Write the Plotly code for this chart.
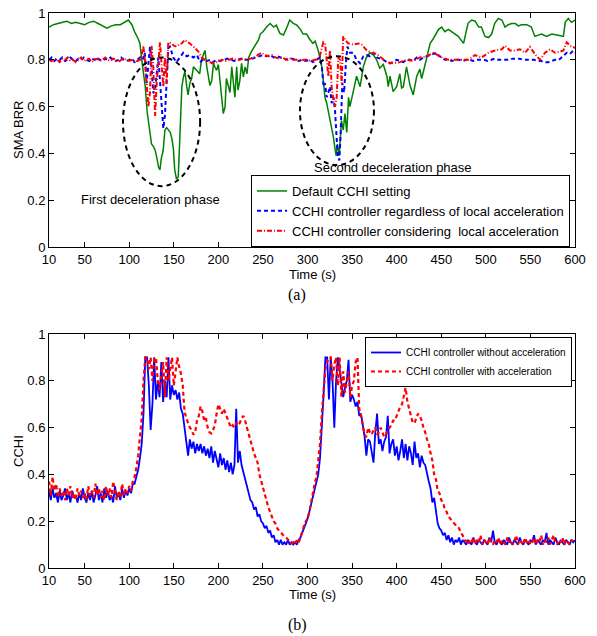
import plotly.graph_objects as go

# ---------------- data: panel (a) SMA BRR ----------------
default_pts = [
    (10,0.94),(15,0.95),(20,0.955),(25,0.96),(30,0.965),(35,0.955),(40,0.96),(45,0.955),(50,0.95),
    (55,0.96),(60,0.965),(65,0.955),(70,0.945),(75,0.935),(80,0.945),(85,0.95),(90,0.95),(95,0.96),
    (99,0.97),(103,0.95),(106,0.92),(110,0.89),(112,0.87),(114,0.80),(116,0.73),(118,0.685),(120,0.58),
    (122,0.52),(124,0.46),(125,0.44),(127,0.43),(129,0.415),(131,0.38),(133,0.34),(134.5,0.33),(136,0.38),
    (138,0.41),(140,0.50),(142,0.51),(144,0.50),(146,0.49),(148,0.46),(149.5,0.42),(151,0.33),(153,0.29),
    (155,0.30),(157,0.49),(159,0.685),(161,0.73),(162.5,0.75),(164.5,0.685),(166,0.65),(168,0.70),(170,0.72),
    (172,0.77),(174,0.76),(176,0.755),(179,0.74),(181,0.80),(185,0.84),(187,0.77),(190.5,0.69),(192.5,0.71),
    (194.5,0.785),(196,0.77),(198,0.755),(200,0.78),(202,0.70),(204,0.64),(205.5,0.57),(207.5,0.60),(209,0.72),
    (211,0.69),(213,0.66),(215,0.77),(217,0.685),(218.5,0.64),(220.5,0.77),(222,0.67),(224,0.71),(226,0.785),
    (228,0.727),(230,0.77),(232,0.74),(234,0.81),(237,0.835),(241,0.86),(245,0.885),(247,0.91),(250,0.92),
    (254,0.94),(258,0.955),(262,0.94),(265,0.948),(269,0.913),(273,0.906),(277,0.94),(280,0.97),(284,0.956),
    (288,0.948),(292,0.93),(295,0.91),(299,0.91),(302,0.89),(306,0.87),(308.5,0.88),(312,0.84),(314,0.81),
    (316,0.77),(318,0.70),(319.5,0.64),(321.5,0.615),(323,0.585),(325,0.543),(327,0.514),(329,0.47),(331,0.415),
    (332,0.39),(333.5,0.44),(335.5,0.39),(338,0.54),(340,0.50),(342,0.57),(344,0.49),(346,0.64),(347.5,0.60),
    (351,0.66),(355,0.73),(359,0.685),(362.5,0.77),(366,0.81),(370,0.83),(374,0.82),(377.5,0.80),(381,0.764),
    (385,0.78),(389,0.73),(390.5,0.685),(392.5,0.73),(396,0.664),(400,0.685),(403.5,0.74),(405.5,0.68),
    (407.5,0.685),(411,0.77),(413,0.73),(415,0.69),(418.5,0.65),(420.5,0.685),(422.5,0.73),(426,0.76),(428,0.72),
    (430,0.75),(433.5,0.81),(437.5,0.87),(441,0.89),(445,0.92),(447,0.93),(450.5,0.94),(454,0.92),(458,0.93),
    (463.5,0.915),(469,0.90),(475,0.87),(480,0.956),(484,0.97),(488,0.965),(492,0.94),(495,0.94),(499,0.90),
    (503,0.895),(506.5,0.91),(510,0.956),(514,0.977),(518,0.97),(521.5,0.94),(525,0.95),(529,0.955),(533,0.955),
    (536.5,0.945),(540,0.95),(546,0.95),(551,0.94),(555,0.90),(559,0.905),(562.5,0.91),(568,0.90),(574,0.91),
    (581,0.905),(587,0.90),(589,0.96),(592.5,0.977),(596,0.96),(600,0.97),
]

regardless_pts = [
    (10,0.80),(13,0.81),(16,0.795),(19,0.805),(22,0.80),(25,0.81),(28,0.795),(31,0.80),(34,0.81),(37,0.80),
    (40,0.795),(43,0.805),(46,0.80),(49,0.81),(52,0.80),(55,0.795),(58,0.805),(61,0.80),(64,0.81),(67,0.80),
    (70,0.795),(73,0.805),(76,0.80),(79,0.81),(82,0.80),(85,0.795),(88,0.80),(91,0.81),(94,0.80),(97,0.795),
    (100,0.80),(103,0.805),(106,0.79),(109,0.80),(112,0.81),(115,0.80),(117.5,0.83),(119.5,0.70),(121.5,0.78),
    (123.3,0.856),(125,0.77),(127,0.657),(129,0.67),(131,0.77),(132.6,0.81),(134.5,0.71),(136.4,0.60),
    (138.2,0.507),(140,0.56),(142,0.70),(143.8,0.85),(145.7,0.856),(149.4,0.81),(153,0.79),(157,0.81),
    (160.6,0.83),(164.4,0.815),(168,0.82),(172,0.81),(176,0.82),(179.4,0.79),(183,0.80),(187,0.795),(191,0.80),
    (194,0.79),(198,0.80),(202,0.795),(206,0.80),(210,0.805),(214,0.80),(218,0.795),(222,0.80),(226,0.805),
    (230,0.80),(234,0.80),(238,0.805),(242,0.81),(246,0.815),(250,0.82),(254,0.815),(258,0.82),(262,0.81),
    (266,0.815),(270,0.81),(274,0.805),(278,0.80),(282,0.805),(286,0.80),(290,0.795),(294,0.80),(298,0.795),
    (302,0.80),(306,0.79),(310,0.80),(314,0.81),(316,0.77),(318,0.685),(319.6,0.70),(321.5,0.64),(323.3,0.66),
    (325.2,0.685),(327,0.615),(329,0.64),(330.8,0.585),(332.7,0.47),(333.8,0.39),(335.6,0.37),(337,0.47),
    (339,0.70),(341,0.66),(343,0.785),(344.8,0.856),(347.6,0.83),(351.3,0.83),(355,0.80),(358.8,0.785),
    (362.6,0.815),(366.4,0.82),(370,0.815),(373.8,0.83),(377.6,0.81),(381,0.805),(385,0.80),(389,0.79),
    (392.5,0.785),(396,0.79),(400,0.80),(404,0.795),(407.4,0.79),(411,0.80),(415,0.80),(418.6,0.795),
    (422.4,0.81),(426,0.80),(430,0.81),(433.7,0.815),(437.4,0.82),(441,0.825),(445,0.83),(448,0.815),(451,0.81),
    (454,0.80),(458,0.80),(462,0.795),(466,0.80),(470,0.80),(474,0.795),(478,0.80),(482,0.80),(486,0.795),
    (490,0.80),(494,0.80),(498,0.80),(502,0.795),(506,0.80),(510,0.805),(514,0.80),(518,0.80),(522,0.80),
    (526,0.80),(530,0.805),(534,0.805),(538,0.805),(542,0.80),(546,0.80),(550,0.80),(554,0.80),(558,0.795),
    (562,0.795),(566,0.79),(570,0.79),(574,0.795),(578,0.80),(582,0.80),(585,0.81),(587,0.82),(590.7,0.83),
    (594.4,0.825),(598,0.84),(600,0.83),
]

considering_pts = [
    (10,0.80),(13,0.795),(16,0.805),(19,0.80),(22,0.79),(25,0.805),(28,0.80),(31,0.81),(34,0.795),(37,0.80),
    (40,0.79),(43,0.80),(46,0.81),(49,0.795),(52,0.80),(55,0.805),(58,0.79),(61,0.80),(64,0.805),(67,0.795),
    (70,0.80),(73,0.81),(76,0.80),(79,0.795),(82,0.805),(85,0.80),(88,0.79),(91,0.80),(94,0.805),(97,0.80),
    (100,0.795),(103,0.80),(106,0.79),(109,0.795),(112,0.80),(114,0.82),(115.8,0.86),(117.5,0.80),(119.6,0.71),
    (121.4,0.60),(123.3,0.66),(125,0.86),(127,0.77),(129,0.56),(130.8,0.70),(132.6,0.77),(134.5,0.875),
    (136.4,0.77),(138.2,0.685),(140,0.81),(142,0.70),(143.8,0.875),(147.6,0.87),(150,0.86),(153,0.856),
    (156,0.865),(158.8,0.87),(162.5,0.885),(166.3,0.875),(170,0.863),(173.8,0.85),(177.5,0.835),(181.3,0.81),
    (185,0.80),(189,0.795),(193,0.785),(197,0.79),(200,0.79),(204,0.80),(208,0.795),(212,0.80),(216,0.805),
    (220,0.80),(224,0.80),(228,0.805),(232,0.80),(236,0.805),(240,0.81),(244,0.82),(248.5,0.83),(252,0.82),
    (256,0.815),(260,0.82),(264,0.81),(268,0.805),(272,0.81),(276,0.80),(280,0.805),(284,0.80),(288,0.80),
    (292,0.795),(296,0.80),(300,0.80),(304,0.795),(308,0.80),(312,0.80),(314,0.82),(316,0.856),(317.7,0.875),
    (319.6,0.87),(321.5,0.80),(323.3,0.73),(325.2,0.84),(327,0.685),(329,0.63),(330.8,0.60),(332.7,0.64),
    (334.5,0.81),(336.4,0.80),(338.3,0.70),(340,0.90),(342,0.885),(345.7,0.87),(351.3,0.865),(357,0.87),
    (360.7,0.865),(366.4,0.84),(372,0.83),(377.6,0.825),(383,0.81),(388.8,0.79),(396,0.785),(403.7,0.79),
    (411,0.80),(418.6,0.795),(426,0.81),(433.7,0.815),(441.4,0.83),(446.7,0.82),(450.5,0.81),(458,0.80),
    (465.4,0.80),(473,0.80),(480.3,0.80),(487.8,0.82),(495.3,0.81),(502.8,0.83),(510.3,0.84),(517.8,0.845),
    (521.5,0.86),(527,0.84),(532.7,0.84),(538.3,0.845),(544,0.83),(549.5,0.855),(555,0.825),(560.8,0.80),
    (566.4,0.83),(572,0.845),(577.6,0.83),(583.2,0.835),(587,0.84),(590.7,0.875),(594.4,0.86),(598,0.855),
    (600,0.85),
]

# ---------------- data: panel (b) CCHI, sampled every 2 s from 10 s to 600 s ----------------
time_b = list(range(10, 601, 2))
cchi_without = [
    0.33,0.29,0.34,0.30,0.32,0.28,0.33,0.29,0.31,0.34,   # 10-28
    0.29,0.32,0.28,0.33,0.30,0.31,0.28,0.32,0.29,0.34,   # 30-48
    0.30,0.28,0.32,0.29,0.33,0.28,0.31,0.35,0.29,0.32,   # 50-68
    0.28,0.34,0.30,0.33,0.29,0.31,0.28,0.35,0.30,0.32,   # 70-88
    0.29,0.34,0.30,0.33,0.31,0.34,0.32,0.36,0.36,0.39,   # 90-108
    0.42,0.47,0.53,0.66,0.90,0.90,0.78,0.59,0.70,0.90,   # 110-128
    0.72,0.80,0.73,0.88,0.71,0.80,0.73,0.90,0.72,0.78,   # 130-148
    0.74,0.76,0.72,0.75,0.68,0.66,0.60,0.56,0.48,0.55,   # 150-168
    0.51,0.54,0.49,0.53,0.50,0.53,0.49,0.52,0.48,0.51,   # 170-188
    0.47,0.52,0.45,0.50,0.46,0.43,0.49,0.44,0.47,0.42,   # 190-208
    0.46,0.41,0.45,0.40,0.44,0.68,0.45,0.50,0.44,0.41,   # 210-228
    0.38,0.35,0.33,0.29,0.28,0.25,0.26,0.22,0.23,0.20,   # 230-248
    0.19,0.17,0.18,0.15,0.16,0.13,0.14,0.11,0.12,0.10,   # 250-268
    0.12,0.10,0.11,0.10,0.12,0.10,0.11,0.10,0.11,0.10,   # 270-288
    0.12,0.13,0.15,0.17,0.19,0.21,0.24,0.27,0.31,0.33,   # 290-308
    0.36,0.40,0.47,0.59,0.74,0.90,0.90,0.72,0.90,0.80,   # 310-328
    0.60,0.80,0.90,0.85,0.80,0.73,0.77,0.80,0.89,0.71,   # 330-348
    0.74,0.72,0.69,0.71,0.65,0.66,0.61,0.56,0.48,0.55,   # 350-368
    0.54,0.50,0.45,0.58,0.66,0.53,0.55,0.50,0.54,0.56,   # 370-388
    0.65,0.49,0.53,0.55,0.48,0.52,0.46,0.50,0.55,0.47,   # 390-408
    0.53,0.46,0.52,0.49,0.44,0.54,0.47,0.49,0.43,0.48,   # 410-428
    0.45,0.44,0.40,0.37,0.34,0.28,0.30,0.24,0.19,0.17,   # 430-448
    0.16,0.14,0.15,0.12,0.14,0.11,0.13,0.10,0.12,0.11,   # 450-468
    0.13,0.10,0.12,0.11,0.10,0.12,0.11,0.10,0.13,0.11,   # 470-488
    0.10,0.12,0.11,0.10,0.12,0.11,0.10,0.13,0.11,0.16,   # 490-508
    0.11,0.10,0.12,0.11,0.10,0.12,0.11,0.10,0.13,0.11,   # 510-528
    0.10,0.12,0.11,0.10,0.13,0.11,0.10,0.12,0.11,0.10,   # 530-548
    0.12,0.11,0.14,0.10,0.12,0.11,0.10,0.12,0.11,0.15,   # 550-568
    0.10,0.12,0.11,0.10,0.13,0.11,0.10,0.12,0.11,0.10,   # 570-588
    0.12,0.11,0.10,0.12,0.11,0.12,                       # 590-600
]
cchi_with = [
    0.37,0.31,0.39,0.33,0.36,0.30,0.34,0.31,0.33,0.29,   # 10-28
    0.34,0.31,0.35,0.30,0.32,0.29,0.34,0.31,0.33,0.30,   # 30-48
    0.32,0.29,0.35,0.31,0.33,0.30,0.36,0.31,0.34,0.30,   # 50-68
    0.33,0.29,0.35,0.31,0.34,0.30,0.37,0.32,0.29,0.33,   # 70-88
    0.30,0.36,0.31,0.34,0.32,0.35,0.33,0.37,0.39,0.43,   # 90-108
    0.48,0.56,0.64,0.80,0.90,0.90,0.85,0.90,0.80,0.89,   # 110-128
    0.90,0.80,0.76,0.82,0.88,0.73,0.90,0.80,0.85,0.90,   # 130-148
    0.78,0.83,0.90,0.86,0.83,0.78,0.67,0.64,0.62,0.60,   # 150-168
    0.59,0.57,0.58,0.63,0.65,0.69,0.67,0.63,0.64,0.60,   # 170-188
    0.58,0.575,0.59,0.61,0.66,0.70,0.68,0.66,0.68,0.66,  # 190-208
    0.64,0.62,0.60,0.61,0.60,0.62,0.61,0.62,0.64,0.65,   # 210-228
    0.63,0.60,0.57,0.55,0.52,0.49,0.47,0.45,0.40,0.37,   # 230-248
    0.35,0.32,0.29,0.26,0.24,0.22,0.20,0.19,0.17,0.16,   # 250-268
    0.15,0.14,0.135,0.13,0.12,0.11,0.105,0.11,0.10,0.12, # 270-288
    0.11,0.13,0.16,0.18,0.20,0.21,0.24,0.28,0.33,0.36,   # 290-308
    0.39,0.45,0.53,0.66,0.75,0.85,0.88,0.90,0.90,0.80,   # 310-328
    0.87,0.90,0.78,0.90,0.73,0.84,0.75,0.79,0.84,0.73,   # 330-348
    0.78,0.80,0.88,0.90,0.68,0.65,0.60,0.57,0.56,0.60,   # 350-368
    0.58,0.57,0.59,0.60,0.57,0.58,0.60,0.58,0.56,0.57,   # 370-388
    0.59,0.60,0.61,0.63,0.63,0.65,0.67,0.69,0.70,0.74,   # 390-408
    0.77,0.71,0.68,0.64,0.62,0.62,0.64,0.66,0.65,0.63,   # 410-428
    0.60,0.58,0.55,0.53,0.49,0.46,0.40,0.38,0.33,0.32,   # 430-448
    0.29,0.28,0.25,0.24,0.22,0.21,0.20,0.19,0.18,0.175,  # 450-468
    0.17,0.15,0.14,0.12,0.115,0.10,0.12,0.11,0.13,0.10,  # 470-488
    0.12,0.11,0.14,0.10,0.12,0.11,0.10,0.13,0.11,0.10,   # 490-508
    0.12,0.11,0.13,0.10,0.12,0.11,0.10,0.13,0.11,0.12,   # 510-528
    0.10,0.11,0.14,0.10,0.12,0.11,0.10,0.13,0.11,0.12,   # 530-548
    0.10,0.11,0.13,0.10,0.12,0.11,0.14,0.10,0.12,0.11,   # 550-568
    0.13,0.10,0.12,0.14,0.11,0.10,0.12,0.11,0.13,0.10,   # 570-588
    0.12,0.11,0.10,0.12,0.11,0.11,                       # 590-600
]

x_ticks = [10, 50, 100, 150, 200, 250, 300, 350, 400, 450, 500, 550, 600]
y_ticks = [0, 0.2, 0.4, 0.6, 0.8, 1]
y_tick_text = ["0", "0.2", "0.4", "0.6", "0.8", "1"]

names_a = ["Default CCHI setting",
           "CCHI controller regardless of local acceleration",
           "CCHI controller considering  local acceleration"]
names_b = ["CCHI controller without acceleration", "CCHI controller with acceleration"]

# ---------------- figure ----------------
# the page body has an 8 px margin, so the figure is 8 px smaller and all
# pixel positions below are converted with that offset
OFF = 8
W, H = 597 - OFF, 636 - OFF
FONT = "Liberation Sans, Arial, sans-serif"
SERIF = "Liberation Serif, Times New Roman, serif"

def px(xp):
    return (xp - OFF) / W

def py(yp):
    return 1 - (yp - OFF) / H

fig = go.Figure()

def unzip(pts):
    return [p[0] for p in pts], [p[1] for p in pts]

t, v = unzip(default_pts)
fig.add_trace(go.Scatter(x=t, y=v, mode="lines", name=names_a[0],
                         line=dict(color="#008000", width=1.5), xaxis="x", yaxis="y", legend="legend"))
t, v = unzip(regardless_pts)
fig.add_trace(go.Scatter(x=t, y=v, mode="lines", name=names_a[1],
                         line=dict(color="#0000FF", width=2, dash="4px,3px"), xaxis="x", yaxis="y", legend="legend"))
t, v = unzip(considering_pts)
fig.add_trace(go.Scatter(x=t, y=v, mode="lines", name=names_a[2],
                         line=dict(color="#FF0000", width=2, dash="5px,2px,1px,2px"), xaxis="x", yaxis="y", legend="legend"))

fig.add_trace(go.Scatter(x=time_b, y=cchi_without, mode="lines", name=names_b[0],
                         line=dict(color="#0000FF", width=1.8), xaxis="x2", yaxis="y2", legend="legend2"))
fig.add_trace(go.Scatter(x=time_b, y=cchi_with, mode="lines", name=names_b[1],
                         line=dict(color="#FF0000", width=2.2, dash="4px,3px"), xaxis="x2", yaxis="y2", legend="legend2"))

dom_x = [px(49), px(575)]
dom_a = [py(247), py(13)]
dom_b = [py(568), py(334)]

axis_common = dict(showline=True, linecolor="black", linewidth=1, mirror="ticks", ticks="inside",
                   ticklen=5, tickcolor="black", showgrid=False, zeroline=False, automargin=False,
                   ticklabeloverflow="allow",
                   tickfont=dict(family=FONT, size=13, color="black"))

fig.update_layout(
    width=W, height=H, margin=dict(l=0, r=0, t=0, b=0, autoexpand=False),
    paper_bgcolor="white", plot_bgcolor="white",
    font=dict(family=FONT, size=13, color="black"),
    xaxis=dict(domain=dom_x, range=[10, 600], tickvals=x_ticks, anchor="y", **axis_common),
    yaxis=dict(domain=dom_a, range=[0, 1], tickvals=y_ticks, ticktext=y_tick_text, anchor="x", **axis_common),
    xaxis2=dict(domain=dom_x, range=[10, 600], tickvals=x_ticks, anchor="y2", **axis_common),
    yaxis2=dict(domain=dom_b, range=[0, 1], tickvals=y_ticks, ticktext=y_tick_text, anchor="x2", **axis_common),
    legend=dict(x=px(251), y=py(247), xanchor="left", yanchor="bottom", bgcolor="white",
                bordercolor="black", borderwidth=1, font=dict(family=FONT, size=13),
                tracegroupgap=0, itemwidth=30),
    legend2=dict(x=px(365), y=py(337), xanchor="left", yanchor="top", bgcolor="white",
                 bordercolor="black", borderwidth=1, font=dict(family=FONT, size=10),
                 tracegroupgap=0, itemwidth=30),
    showlegend=True,
)

# ellipses marking deceleration phases
for (x0, x1, y0, y1) in [(93, 179.5, 0.26, 0.81), (291.5, 374.5, 0.35, 0.815)]:
    fig.add_shape(type="circle", xref="x", yref="y", x0=x0, x1=x1, y0=y0, y1=y1,
                  line=dict(color="black", width=2, dash="5px,4px"), layer="above")

def label(x, y, text, xref="paper", yref="paper", angle=0, font=None):
    return dict(x=x, y=y, xref=xref, yref=yref, text=text, showarrow=False, textangle=angle,
                xanchor="center", yanchor="middle", font=font or dict(family=FONT, size=13))

ann = [
    label(123.3, 0.205, "First deceleration phase", "x", "y"),
    label(395.9, 0.338, "Second deceleration phase", "x", "y"),
    label(px(312), py(274), "Time (s)"),
    label(px(312), py(594), "Time (s)"),
    label(px(18), py(130), "SMA BRR", angle=-90),
    label(px(18), py(451), "CCHI", angle=-90),
    label(px(297), py(295), "(a)", font=dict(family=SERIF, size=16)),
    label(px(297), py(625), "(b)", font=dict(family=SERIF, size=16)),
]
fig.update_layout(annotations=ann)

fig.write_html("out.html")
